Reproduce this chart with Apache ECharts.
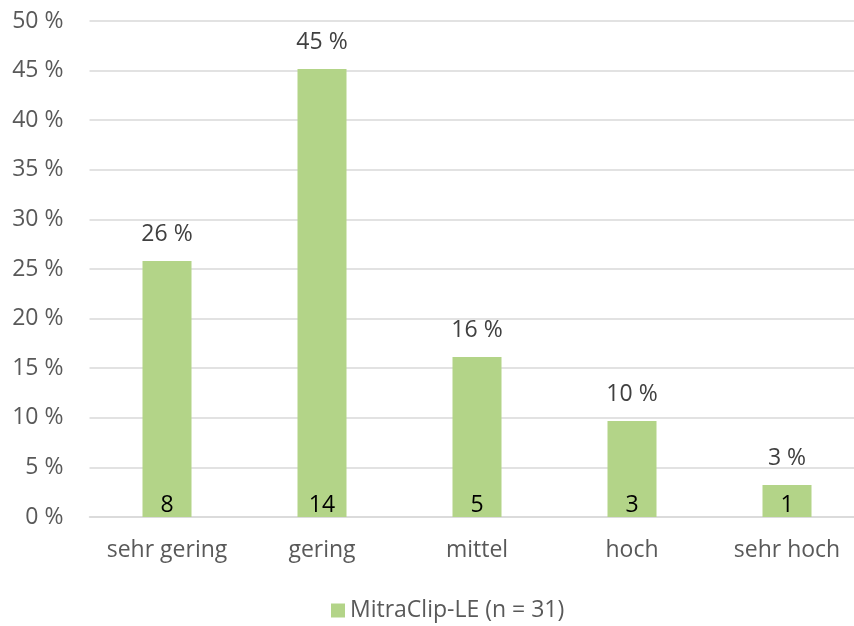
<!DOCTYPE html>
<html>
<head>
<meta charset="utf-8">
<script src="https://cdn.jsdelivr.net/npm/echarts@6/dist/echarts.min.js"></script>
<style>
  html, body { margin: 0; padding: 0; background: #fff; overflow: hidden; }
  /* the plot runs past the right edge of the window, so the canvas is a bit wider */
  #chart { width: 866px; height: 626px; }
</style>
</head>
<body>
<div id="chart"></div>
<script>
// Risk categories and patient counts (n = 31)
const categories = ['sehr gering', 'gering', 'mittel', 'hoch', 'sehr hoch'];
const counts = [8, 14, 5, 3, 1];
const total = 31;
const seriesName = 'MitraClip-LE (n = 31)';
const yTicks = [0, 5, 10, 15, 20, 25, 30, 35, 40, 45, 50];

// Share of patients per category in percent
const shares = counts.map(c => c / total * 100);

const FONT = '"Open Sans", "Liberation Sans", sans-serif';
const FS = 23;
const BAR = '#B3D488';

const chart = echarts.init(document.getElementById('chart'), null, { renderer: 'canvas' });
chart.setOption({
  animation: false,
  backgroundColor: '#ffffff',
  textStyle: { fontFamily: FONT },
  grid: { left: 89.5, top: 21, right: 1.5, bottom: 109, containLabel: false },
  legend: {
    data: [seriesName],
    top: 594,
    left: 326,
    itemWidth: 14,
    itemHeight: 14,
    itemGap: 8,
    textStyle: { fontFamily: FONT, fontSize: FS, color: '#595959' },
    icon: 'rect'
  },
  xAxis: {
    type: 'category',
    data: categories,
    axisLine: { show: true, lineStyle: { color: '#d9d9d9', width: 1.5 } },
    axisTick: { show: false },
    axisLabel: { interval: 0, fontFamily: FONT, fontSize: FS, color: '#595959', margin: 22 }
  },
  yAxis: {
    type: 'value',
    min: yTicks[0],
    max: yTicks[yTicks.length - 1],
    interval: 5,
    axisLine: { show: false },
    axisTick: { show: false },
    splitLine: { lineStyle: { color: '#d9d9d9', width: 1.5 } },
    axisLabel: {
      fontFamily: FONT, fontSize: FS, color: '#595959', margin: 26,
      formatter: v => v + ' %'
    }
  },
  series: [
    {
      name: seriesName,
      type: 'bar',
      data: shares,
      barWidth: 49,
      itemStyle: { color: BAR },
      label: {
        show: true,
        position: 'top',
        distance: 15,
        fontFamily: FONT,
        fontSize: FS,
        color: '#404040',
        formatter: p => Math.round(p.value) + ' %'
      }
    },
    {
      name: 'Anzahl',
      type: 'bar',
      data: shares,
      barWidth: 49,
      barGap: '-100%',
      silent: true,
      itemStyle: { color: 'rgba(0,0,0,0)' },
      label: {
        show: true,
        position: 'insideBottom',
        distance: 0,
        fontFamily: FONT,
        fontSize: FS,
        color: '#000000',
        formatter: p => String(counts[p.dataIndex])
      }
    }
  ]
});
</script>
</body>
</html>
